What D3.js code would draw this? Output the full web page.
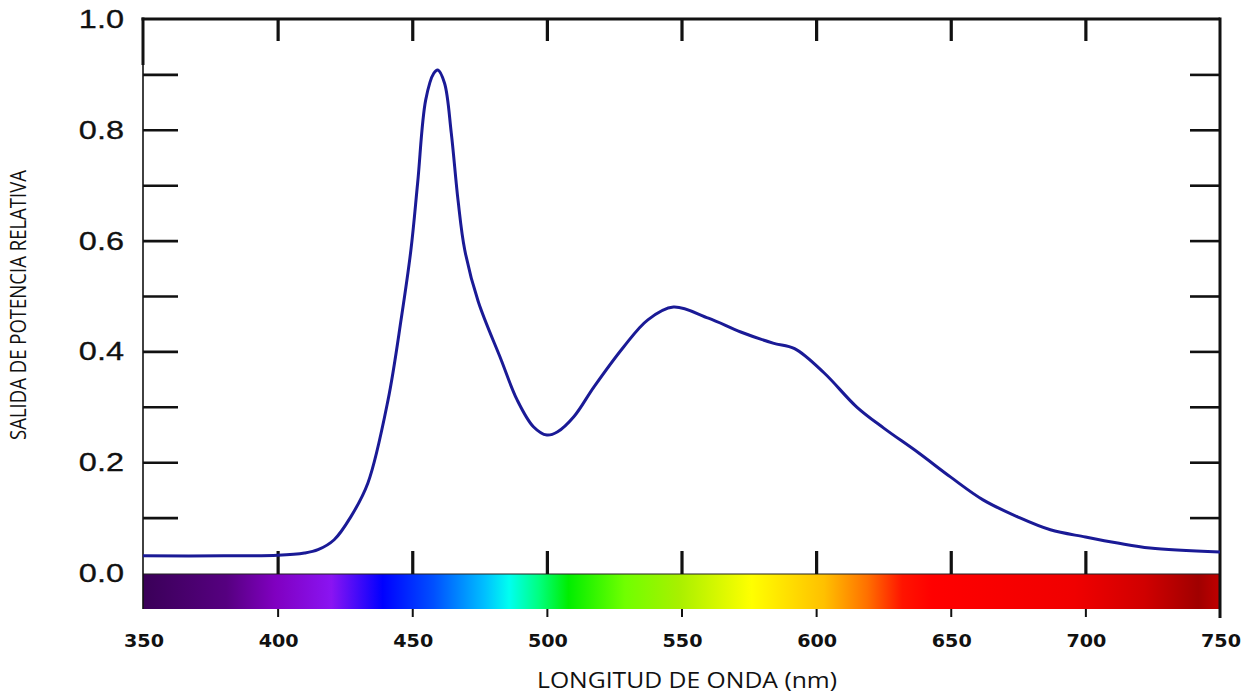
<!DOCTYPE html>
<html>
<head>
<meta charset="utf-8">
<script src="https://cdn.jsdelivr.net/npm/d3@7"></script>
<style>
  body { margin: 0; background: #fff; }
  svg { display: block; }
</style>
</head>
<body>
<svg id="chart"></svg>
<script>
// spectrum
var wavelength = [350, 380, 400, 410, 415, 421, 427, 433.5, 441, 446, 449.5, 452, 455, 458, 459.5, 462, 464.5, 467, 469.5, 474.5, 483, 489, 495, 500, 504, 510, 517.5, 528.5, 537.5, 547, 560, 572, 584, 592, 603, 615, 625, 638, 650, 662, 675, 687, 700, 712, 724, 750];
var power = [0.031, 0.031, 0.032, 0.036, 0.042, 0.06, 0.10, 0.162, 0.312, 0.462, 0.583, 0.704, 0.854, 0.902, 0.908, 0.884, 0.794, 0.673, 0.583, 0.49, 0.385, 0.312, 0.264, 0.249, 0.255, 0.282, 0.336, 0.408, 0.457, 0.48, 0.46, 0.435, 0.415, 0.405, 0.361, 0.30, 0.262, 0.217, 0.173, 0.132, 0.101, 0.078, 0.065, 0.054, 0.045, 0.038];

// ticks
var xTicks = [350, 400, 450, 500, 550, 600, 650, 700, 750];
var xInnerTicks = [400, 450, 500, 550, 600, 650, 700];
var yLabels = [0, 0.2, 0.4, 0.6, 0.8, 1.0];
var yMinor = [0.1, 0.2, 0.3, 0.4, 0.5, 0.6, 0.7, 0.8, 0.9];

// colour bar stops
var spectrumNm = [350, 381, 399, 420, 439, 458, 477, 486, 497, 508, 529, 549, 576, 603, 619, 632, 643, 696, 722, 742, 750];
var spectrumColor = ["#3a0058", "#560080", "#8000c0", "#8a14f2", "#0000ff", "#0050ff", "#00c0ff", "#00fff0", "#00ff80", "#00ee00", "#70ff00", "#a8f000", "#ffff00", "#ffc000", "#ff7000", "#ff1400", "#ff0000", "#f00000", "#d00000", "#a00000", "#c00000"];

var width = 1254, height = 696;
var top_ = 19, zeroY = 573, barTop = 574, barBot = 609;

var svg = d3.select("#chart")
	.attr("width", width)
	.attr("height", height);

var x = d3.scaleLinear().domain([350, 750]).range([143, 1220]);
var y = d3.scaleLinear().domain([0, 1]).range([zeroY, top_]);

//gradient for the colour bar
var grad = svg.append("defs").append("linearGradient")
	.attr("id", "spec")
	.attr("gradientUnits", "userSpaceOnUse")
	.attr("x1", x(350)).attr("x2", x(750))
	.attr("y1", 0).attr("y2", 0);

grad.selectAll("stop")
	.data(spectrumNm)
	.enter()
	.append("stop")
	.attr("offset", function(d) { return (d - 350) / 400; })
	.attr("stop-color", function(d, i) { return spectrumColor[i]; });

svg.append("rect")
	.attr("x", x(350))
	.attr("y", barTop)
	.attr("width", x(750) - x(350))
	.attr("height", barBot - barTop)
	.attr("fill", "url(#spec)");

svg.append("line")
	.attr("x1", x(350)).attr("x2", x(750))
	.attr("y1", barTop).attr("y2", barTop)
	.style("stroke", "#222").style("stroke-width", "1.2px");

//frame
svg.append("line")
	.attr("x1", x(350)).attr("x2", x(350))
	.attr("y1", top_).attr("y2", barBot)
	.style("stroke", "#111").style("stroke-width", "1.6px");
svg.append("line")
	.attr("x1", x(350)).attr("x2", x(350))
	.attr("y1", top_ - 1.5).attr("y2", 65)
	.style("stroke", "#111").style("stroke-width", "3px");
svg.append("line")
	.attr("x1", x(350) - 1.5).attr("x2", x(750))
	.attr("y1", top_).attr("y2", top_)
	.style("stroke", "#111").style("stroke-width", "3px");
svg.append("line")
	.attr("x1", x(750)).attr("x2", x(750))
	.attr("y1", top_ - 1.5).attr("y2", 618)
	.style("stroke", "#111").style("stroke-width", "3px");

// inward ticks with d3 axes
var tickStyle = function(g, w) {
	g.select(".domain").remove();
	g.selectAll(".tick line").style("stroke", "#111").style("stroke-width", w);
	g.selectAll(".tick text").remove();
};

svg.append("g")
	.attr("transform", "translate(" + x(350) + ",0)")
	.call(d3.axisLeft(y).tickValues(yMinor).tickSize(-35))
	.call(tickStyle, "2.6px");

svg.append("g")
	.attr("transform", "translate(" + x(750) + ",0)")
	.call(d3.axisRight(y).tickValues(yMinor).tickSize(-30))
	.call(tickStyle, "2.6px");

svg.append("g")
	.attr("transform", "translate(0," + top_ + ")")
	.call(d3.axisTop(x).tickValues(xInnerTicks).tickSize(-22))
	.call(tickStyle, "3.2px");

svg.append("g")
	.attr("transform", "translate(0," + barTop + ")")
	.call(d3.axisBottom(x).tickValues(xInnerTicks).tickSize(-23))
	.call(tickStyle, "3.2px");

svg.append("g")
	.attr("transform", "translate(0," + barBot + ")")
	.call(d3.axisBottom(x).tickValues(xInnerTicks).tickSize(8))
	.call(tickStyle, "2px");

//spectrum curve
var line = d3.line()
	.x(function(d, i) { return x(wavelength[i]); })
	.y(function(d) { return y(d); })
	.curve(d3.curveCatmullRom.alpha(0.5));

svg.append("path")
	.datum(power)
	.attr("d", line)
	.style("fill", "none")
	.style("stroke", "#1a1a96")
	.style("stroke-width", "3px")
	.style("stroke-linejoin", "round");

//y labels (picture is a bit stretched sideways)
svg.selectAll("g.ylab")
	.data(yLabels)
	.enter()
	.append("g")
	.attr("class", "ylab")
	.attr("transform", function(d) { return "translate(124," + y(d) + ") scale(1.3,1)"; })
	.append("text")
	.attr("dy", "0.36em")
	.attr("text-anchor", "end")
	.style("font", "25px 'Liberation Sans', Arial, sans-serif")
	.style("fill", "#111")
	.style("stroke", "#111")
	.style("stroke-width", "0.3px")
	.text(function(d) { return d.toFixed(1); });

//x labels
svg.selectAll("text.xlab")
	.data(xTicks)
	.enter()
	.append("text")
	.attr("class", "xlab")
	.attr("x", function(d) { return x(d) + 1; })
	.attr("y", 647)
	.attr("text-anchor", "middle")
	.attr("textLength", 40)
	.attr("lengthAdjust", "spacingAndGlyphs")
	.style("font", "bold 18.5px 'DejaVu Sans', sans-serif")
	.style("fill", "#111")
	.text(function(d) { return d; });

//axis titles
svg.append("text")
	.attr("x", 687)
	.attr("y", 688)
	.attr("text-anchor", "middle")
	.attr("textLength", 300)
	.attr("lengthAdjust", "spacingAndGlyphs")
	.style("font", "21px 'Open Sans', sans-serif")
	.style("fill", "#111")
	.text("LONGITUD DE ONDA (nm)");

svg.append("text")
	.attr("transform", "translate(26,305) rotate(-90)")
	.attr("text-anchor", "middle")
	.attr("textLength", 270)
	.attr("lengthAdjust", "spacingAndGlyphs")
	.style("font", "22px 'Open Sans', sans-serif")
	.style("fill", "#111")
	.text("SALIDA DE POTENCIA RELATIVA");
</script>
</body>
</html>
